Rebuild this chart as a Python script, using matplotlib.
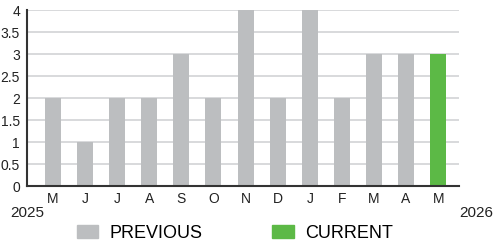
"""
Monthly counts, previous months vs current month, as a bar chart.
"""

import matplotlib.pyplot as plt
from matplotlib.patches import Patch

plt.rcParams["font.family"] = ["Liberation Sans", "DejaVu Sans"]

# Data
MONTHS = ["M", "J", "J", "A", "S", "O", "N", "D", "J", "F", "M", "A", "M"]
VALUES = [2, 1, 2, 2, 3, 2, 4, 2, 4, 2, 3, 3, 3]
IS_CURRENT = [False] * 12 + [True]
Y_TICKS = [0, 0.5, 1, 1.5, 2, 2.5, 3, 3.5, 4]
Y_LABELS = ["0", "0.5", "1", "1.5", "2", "2.5", "3", "3.5", "4"]
START_YEAR = "2025"
END_YEAR = "2026"

GRAY = "#bcbec0"
GREEN = "#5cb946"
GRID = "#d2d3d5"
DARK = "#333333"


def main():
    fig = plt.figure(figsize=(4.94, 2.46), dpi=100)
    ax = fig.add_axes([27 / 494, 1 - 186 / 246, 432 / 494, 176 / 246])

    colors = [GREEN if c else GRAY for c in IS_CURRENT]
    x = range(len(VALUES))
    ax.bar(x, VALUES, width=0.5, color=colors, zorder=2)

    ax.set_xlim(-0.81, len(VALUES) - 0.35)
    ax.set_ylim(0, 4)
    ax.set_yticks(Y_TICKS)
    ax.set_yticklabels(Y_LABELS)
    ax.set_xticks(list(x))
    ax.set_xticklabels(MONTHS)
    ax.tick_params(axis="both", length=0, labelsize=10, colors="#222222")
    ax.tick_params(axis="y", pad=5)
    ax.tick_params(axis="x", pad=4)

    ax.grid(axis="y", color=GRID, linewidth=1.2, zorder=0)
    for side in ["top", "right"]:
        ax.spines[side].set_visible(False)
    ax.spines["left"].set_color(DARK)
    ax.spines["bottom"].set_color(DARK)
    ax.spines["left"].set_linewidth(1.5)
    ax.spines["bottom"].set_linewidth(1.5)
    ax.spines["bottom"].set_zorder(3)

    fig.text(10 / 494, 1 - 213 / 246, START_YEAR, fontsize=11,
             va="center", ha="left", color="#222222")
    fig.text(493 / 494, 1 - 213 / 246, END_YEAR, fontsize=11,
             va="center", ha="right", color="#222222")

    handles = [Patch(color=GRAY, label="PREVIOUS"),
               Patch(color=GREEN, label="CURRENT")]
    fig.legend(handles=handles, loc="center", bbox_to_anchor=(0.475, 1 - 233 / 246),
               ncol=2, frameon=False, fontsize=13, handlelength=1.2,
               handleheight=0.75, columnspacing=3.9, handletextpad=0.6)

    fig.savefig("out.png", dpi=100)
    plt.close(fig)


if __name__ == "__main__":
    main()
